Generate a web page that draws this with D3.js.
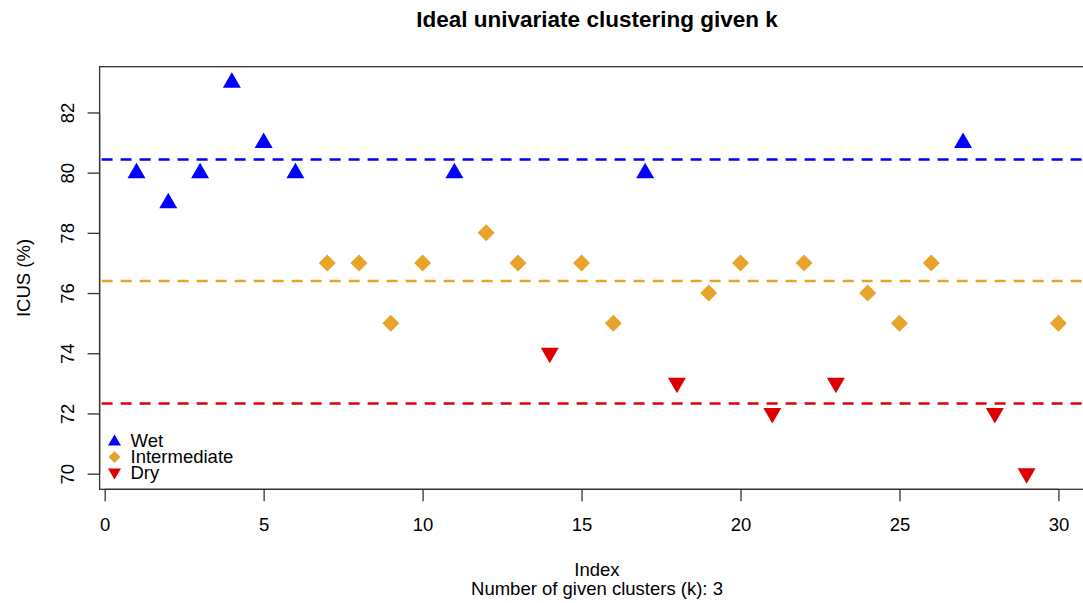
<!DOCTYPE html>
<html><head><meta charset="utf-8">
<script src="https://cdn.jsdelivr.net/npm/d3@7"></script>
<style>body{margin:0;background:#fff}svg{display:block;font-family:"Liberation Sans",Arial,sans-serif}</style>
</head><body><svg id="c" width="1083" height="603"></svg>
<script>
const indices = d3.range(1, 31);
const icus = [80,79,80,83,81,80,77,77,75,77,80,78,77,74,77,75,80,73,76,77,72,77,73,76,75,77,81,72,70,75];
const cluster = ["Wet","Wet","Wet","Wet","Wet","Wet","Intermediate","Intermediate","Intermediate","Intermediate","Wet","Intermediate","Intermediate","Dry","Intermediate","Intermediate","Wet","Dry","Intermediate","Intermediate","Dry","Intermediate","Dry","Intermediate","Intermediate","Intermediate","Wet","Dry","Dry","Intermediate"];
const groups = ["Wet","Intermediate","Dry"];
const groupMeans = [80.44, 76.40, 72.33];
const xTicks = [0,5,10,15,20,25,30];
const yTicks = [70,72,74,76,78,80,82];
const colors = {Wet:"#0000FF", Intermediate:"#E8A32A", Dry:"#DD0000"};
const FS = 18.5;

const svg = d3.select("#c");
const x = d3.scaleLinear().domain([-0.16, 31.16]).range([99.6, 1095.3]);
const y = d3.scaleLinear().domain([69.48, 83.52]).range([489.3, 66.7]);

// box
svg.append("rect").attr("x", x.range()[0]).attr("y", y.range()[1])
  .attr("width", x.range()[1]-x.range()[0]).attr("height", y.range()[0]-y.range()[1])
  .attr("fill","none").attr("stroke","#333").attr("stroke-width",1.3);

// axes
const xa = svg.append("g").attr("transform",`translate(0,${y.range()[0]})`)
  .call(d3.axisBottom(x).tickValues(xTicks).tickSize(12).tickFormat(d3.format("d")));
const ya = svg.append("g").attr("transform",`translate(${x.range()[0]},0)`)
  .call(d3.axisLeft(y).tickValues(yTicks).tickSize(12).tickFormat(d3.format("d")));
[xa,ya].forEach(a=>{a.select(".domain").remove();a.selectAll("line").attr("stroke","#333").attr("stroke-width",1.3);
  a.selectAll("text").attr("font-size",FS).attr("fill","#000").attr("font-family","Liberation Sans, Arial, sans-serif");});
xa.selectAll("text").attr("y",41.7).attr("dy",null);
svg.append("line").attr("x1",x(0)).attr("x2",x(30)).attr("y1",y.range()[0]).attr("y2",y.range()[0]).attr("stroke","#333").attr("stroke-width",1.3);
ya.selectAll("text").attr("x",0).attr("y",0).attr("dy",null)
  .attr("transform","translate(-26,0) rotate(-90)").attr("text-anchor","middle");
svg.append("line").attr("x1",x.range()[0]).attr("x2",x.range()[0]).attr("y1",y(70)).attr("y2",y(82)).attr("stroke","#333").attr("stroke-width",1.3);

// mean lines
groups.forEach((g,i)=>{
  svg.append("line").attr("x1",x.range()[0]).attr("x2",1083).attr("y1",y(groupMeans[i])).attr("y2",y(groupMeans[i]))
    .attr("stroke",colors[g]).attr("stroke-width",2.5).attr("stroke-dasharray","11,8").attr("stroke-dashoffset",-2);
});

// markers
function shape(g, cx, cy){
  if(g==="Wet") return `M${cx},${cy-10}L${cx+9},${cy+5.5}L${cx-9},${cy+5.5}Z`;
  if(g==="Dry") return `M${cx},${cy+10}L${cx+9},${cy-5.5}L${cx-9},${cy-5.5}Z`;
  return `M${cx},${cy-8.5}L${cx+8.5},${cy}L${cx},${cy+8.5}L${cx-8.5},${cy}Z`;
}
svg.append("g").selectAll("path").data(indices).join("path")
  .attr("d",(d,i)=>shape(cluster[i], x(d), y(icus[i])))
  .attr("fill",(d,i)=>colors[cluster[i]]);

// legend
const lg = svg.append("g");
groups.forEach((g,i)=>{
  const base = 447 + i*16;
  const cy = base - 6;
  const p = g==="Wet" ? `M114.5,${cy-6.5}L121,${cy+4.5}L108,${cy+4.5}Z`
          : g==="Dry" ? `M114.5,${cy+6.5}L121,${cy-4.5}L108,${cy-4.5}Z`
          : `M114.5,${cy-6}L120.5,${cy}L114.5,${cy+6}L108.5,${cy}Z`;
  lg.append("path").attr("d",p).attr("fill",colors[g]);
  lg.append("text").attr("x",130.5).attr("y",base).attr("font-size",FS).text(g);
});

// titles
svg.append("text").attr("x",597).attr("y",27).attr("text-anchor","middle").attr("font-size",22.5).attr("font-weight","bold").text("Ideal univariate clustering given k");
svg.append("text").attr("x",597).attr("y",576).attr("text-anchor","middle").attr("font-size",FS).text("Index");
svg.append("text").attr("x",597).attr("y",595).attr("text-anchor","middle").attr("font-size",FS).text("Number of given clusters (k): 3");
svg.append("text").attr("transform","translate(29.5,278) rotate(-90)").attr("text-anchor","middle").attr("font-size",FS).text("ICUS (%)");
</script></body></html>
